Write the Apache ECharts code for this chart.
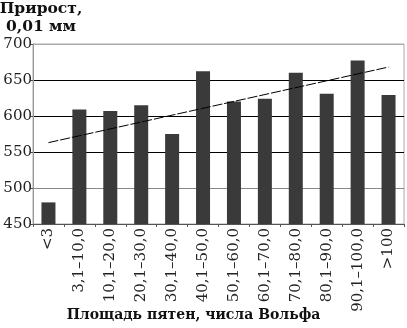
<!DOCTYPE html>
<html><head><meta charset="utf-8">
<script src="https://cdn.jsdelivr.net/npm/echarts@6/dist/echarts.min.js"></script>
<style>html,body{margin:0;padding:0;background:#fff}#c{width:407px;height:328px}</style>
</head><body><div id="c"></div>
<script>
const categories = ['<3','3,1–10,0','10,1–20,0','20,1–30,0','30,1–40,0','40,1–50,0','50,1–60,0','60,1–70,0','70,1–80,0','80,1–90,0','90,1–100,0','>100'];
const growth = [480, 609, 607, 615, 575, 662, 620, 624, 660, 631, 677, 629];
const trend = [563, null, null, null, null, null, null, null, null, null, null, 668];
const yTicks = [450, 500, 550, 600, 650, 700];
const yTitle = 'Прирост,\n0,01 мм';
const xTitle = 'Площадь пятен, числа Вольфа';

const F = 'DejaVu Serif';
const chart = echarts.init(document.getElementById('c'));
chart.setOption({
  animation: false,
  grid: {left: 33, right: 3, top: 44, bottom: 104, show: true, borderColor: '#aaa', borderWidth: 1,
         containLabel: false, outerBoundsMode: 'none'},
  graphic: [
    {type: 'text', x: 41, y: 0, style: {text: yTitle, font: 'bold 15.5px "DejaVu Serif"', fill: '#111', align: 'center', verticalAlign: 'top', lineHeight: 18}}
  ],
  xAxis: {
    type: 'category', data: categories,
    name: xTitle, nameLocation: 'middle', nameGap: 84, nameMoveOverlap: false,
    nameTextStyle: {fontFamily: F, fontWeight: 'bold', fontSize: 14, color: '#111', verticalAlign: 'top', padding: [0, 50, 0, 0]},
    axisLine: {lineStyle: {color: '#555', width: 1}},
    axisTick: {show: true, length: 3, lineStyle: {color: '#555'}},
    axisLabel: {rotate: 90, fontFamily: F, fontSize: 15, color: '#222', margin: 4, interval: 0}
  },
  yAxis: {
    type: 'value', min: 450, max: 700, interval: 50,
    axisLine: {show: true, lineStyle: {color: '#999'}},
    axisTick: {show: true, length: 3, lineStyle: {color: '#555'}},
    axisLabel: {fontFamily: F, fontSize: 15, color: '#222', margin: 1,
      formatter: v => yTicks.includes(v) ? String(v) : ''},
    splitLine: {show: true, lineStyle: {color: ['#555', '#888', '#000', '#000', '#000', '#aaa'], width: 1}}
  },
  series: [
    {type: 'bar', data: growth, barWidth: 14, itemStyle: {color: '#3a3a3a'}},
    {type: 'line', data: trend, connectNulls: true, symbol: 'none',
     lineStyle: {color: '#000', width: 1, type: [10, 2]}, z: 5}
  ]
});
</script></body></html>
